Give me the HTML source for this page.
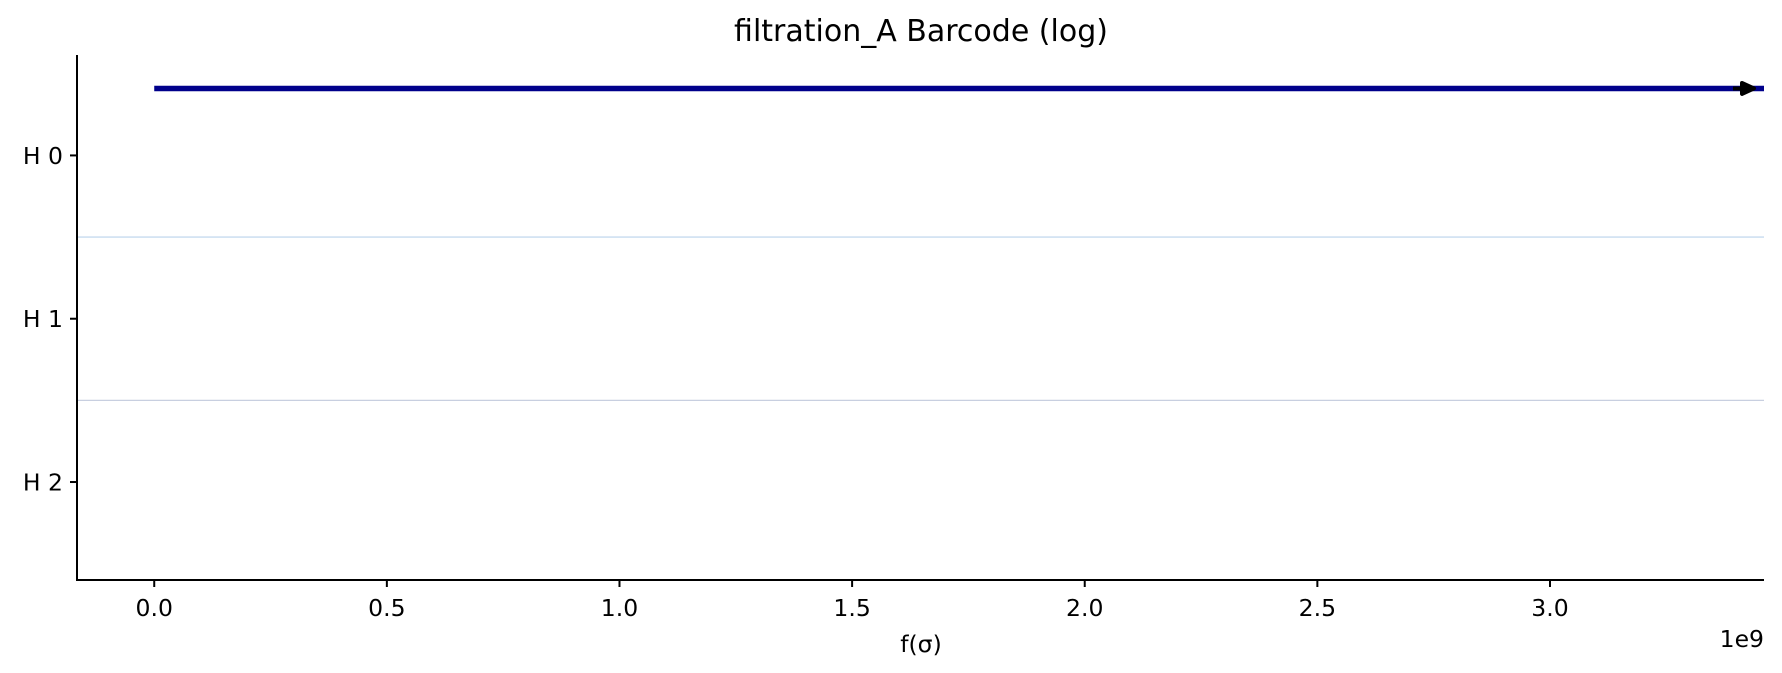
<!DOCTYPE html>
<html><head><meta charset="utf-8"><style>
body{margin:0;background:#fff}
svg{display:block;font-family:"DejaVu Sans","Liberation Sans",sans-serif}
</style></head><body>
<svg id="chart" width="1782" height="673" viewBox="0 0 1782 673">
<text x="921" y="41" font-size="30" text-anchor="middle" fill="#000">filtration_A Barcode (log)</text>
<g id="grid"></g><g id="bars"></g><g id="axes"></g>
<text x="921" y="652" font-size="23.5" text-anchor="middle">f(σ)</text>
<text x="1764" y="647" font-size="23.5" text-anchor="end">1e9</text>
</svg>
<script>
const dims=["H 0","H 1","H 2"];
const births=[0];
const deaths=[Infinity];
const barDims=[0];
const barOffsets=[-0.41];
const xTicks=[0,0.5,1.0,1.5,2.0,2.5,3.0];
const xTickLabels=["0.0","0.5","1.0","1.5","2.0","2.5","3.0"];
const sepColors=["#c6dbef","#c8cfe0"];
const NS="http://www.w3.org/2000/svg";
const L=77,R=1764,T=55,B=580;
const xMin=-0.166,xMax=3.46,yMin=-0.615,yMax=2.6;
const X=v=>L+(v-xMin)/(xMax-xMin)*(R-L);
const Y=v=>T+(v-yMin)/(yMax-yMin)*(B-T);
function mk(tag,attrs,parent){const e=document.createElementNS(NS,tag);for(const k in attrs)e.setAttribute(k,attrs[k]);document.getElementById(parent).appendChild(e);return e;}
for(let i=0;i<dims.length-1;i++){
 const l=mk("line",{x1:L,x2:R,y1:Y(i+0.5),y2:Y(i+0.5),stroke:sepColors[i],"stroke-width":1.3},"grid");
 
 
}
for(let i=0;i<births.length;i++){
 const y=Y(barDims[i]+barOffsets[i]);
 const inf=!isFinite(deaths[i]);
 const x2=inf?R:X(deaths[i]);
 const b=mk("line",{x1:X(births[i]),x2:x2,y1:y,y2:y,stroke:"#00008b","stroke-width":5.5},"bars");
 
 
 if(inf){
  const a=mk("path",{d:`M${R-31} ${y} L${R-20} ${y} M${R-22} ${y-5.5} L${R-10} ${y} L${R-22} ${y+5.5} Z`,stroke:"#000","stroke-width":4,fill:"#000","stroke-linejoin":"round"},"bars");
  
  
 }
}
const la=mk("line",{x1:L,x2:L,y1:T,y2:B+1,stroke:"#000","stroke-width":2},"axes");


const ba=mk("line",{x1:L-1,x2:R,y1:B,y2:B,stroke:"#000","stroke-width":2},"axes");


dims.forEach((d,i)=>{
 const tk=mk("line",{x1:L-7,x2:L,y1:Y(i),y2:Y(i),stroke:"#000","stroke-width":2},"axes");
 
 
 const t=mk("text",{x:L-14,y:Y(i)+8.5,"font-size":23.5,"text-anchor":"end"},"axes");
 t.textContent=d;
 
 
});
xTicks.forEach((v,i)=>{
 const tk=mk("line",{x1:X(v),x2:X(v),y1:B,y2:B+7,stroke:"#000","stroke-width":2},"axes");
 
 
 const t=mk("text",{x:X(v),y:B+36,"font-size":23.5,"text-anchor":"middle"},"axes");
 t.textContent=xTickLabels[i];
 
 
});
</script>
</body></html>
